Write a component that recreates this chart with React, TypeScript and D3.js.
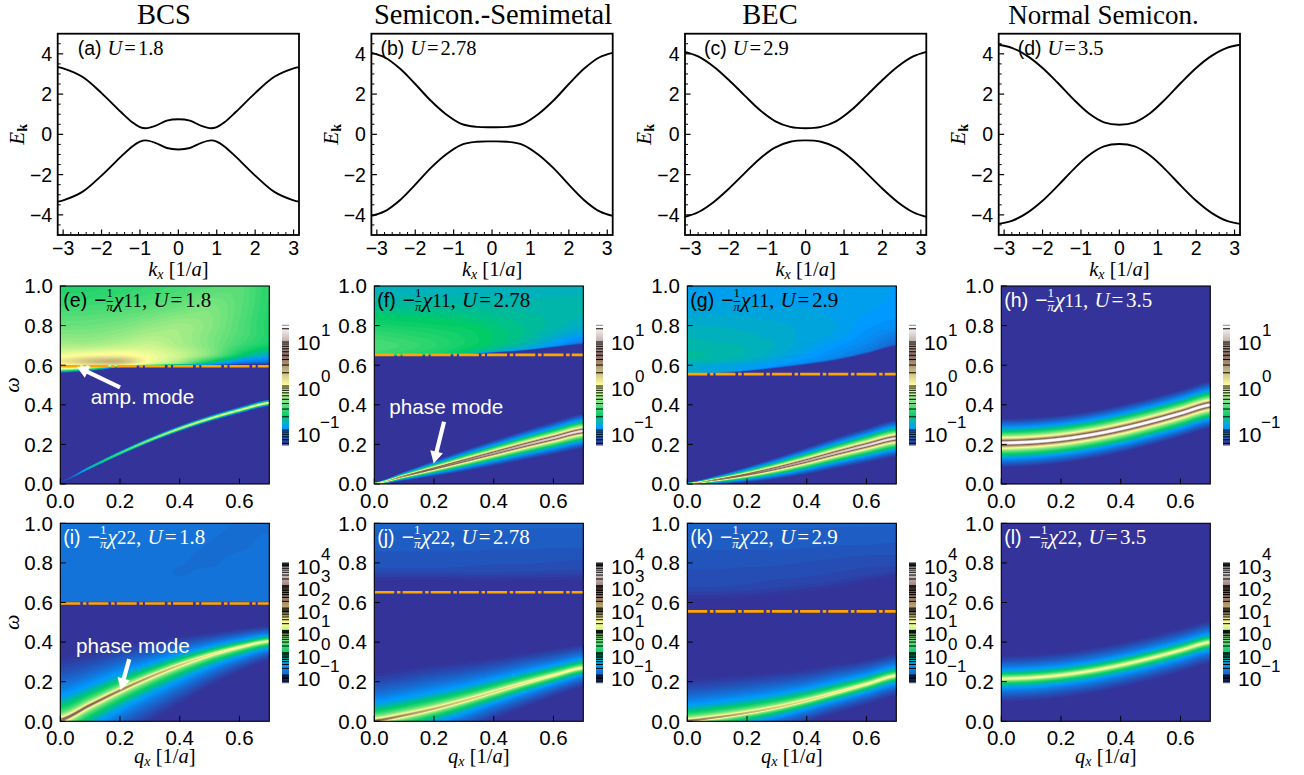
import React, { useMemo } from "react";
import * as d3 from "d3";

// ---------- band structure (half of the symmetric curve)
const K_A = [0, 0.3, 0.6, 0.85, 1.0, 1.2, 1.5, 2, 2.5, 3, Math.PI];
const K_S = [0, 0.4, 0.8, 1.2, 1.6, 2, 2.4, 2.8, Math.PI];
const E_A = [0.75, 0.68, 0.42, 0.3, 0.36, 0.6, 1.12, 2.05, 2.86, 3.28, 3.34];
const E_B = [0.35, 0.37, 0.52, 1.0, 1.68, 2.5, 3.27, 3.83, 4.05];
const E_C = [0.3, 0.37, 0.66, 1.22, 1.95, 2.7, 3.37, 3.87, 4.1];
const E_D = [0.48, 0.6, 1.05, 1.75, 2.55, 3.3, 3.9, 4.3, 4.45];
const TITLES = ["BCS", "Semicon.-Semimetal", "BEC", "Normal Semicon."];
const TITLE_SIZES = [28.5, 28.5, 28.5, 27];
const TOP_LABELS = ["(a)", "(b)", "(c)", "(d)"];
const U_VALUES = ["1.8", "2.78", "2.9", "3.5"];
const TOP_LABEL_DX = [20, 9, 19, 19];

// ---------- spectral maps: q samples, omega samples
const Q_NODES = [0, 0.1, 0.2, 0.3, 0.4, 0.5, 0.6, 0.7];
const W_NODES = [0.6, 0.62, 0.65, 0.7, 0.75, 0.8, 0.9, 1.0];

// mode ridge: omega, log10 peak, distance from ridge to where the colour reaches the floor
const MODE_E = [0.012, 0.084, 0.156, 0.222, 0.28, 0.33, 0.373, 0.41];
const PEAK_E = [-1.2, -0.6, -0.35, -0.15, -0.05, 0.0, 0.02, 0.05];
const REACH_E = [0.004, 0.008, 0.011, 0.013, 0.015, 0.016, 0.017, 0.018];
const MODE_F = [0.002, 0.04, 0.078, 0.117, 0.156, 0.195, 0.232, 0.268];
const PEAK_F = [0.4, 0.7, 0.85, 0.95, 1.05, 1.15, 1.25, 1.35];
const REACH_F = [0.005, 0.023, 0.04, 0.055, 0.066, 0.076, 0.084, 0.09];
const MODE_G = [0.002, 0.022, 0.048, 0.08, 0.117, 0.157, 0.195, 0.231];
const PEAK_G = [0.4, 0.7, 0.85, 1.0, 1.1, 1.2, 1.3, 1.35];
const REACH_G = [0.005, 0.022, 0.04, 0.056, 0.069, 0.08, 0.089, 0.096];
const MODE_H = [0.207, 0.2126, 0.226, 0.2483, 0.2784, 0.3152, 0.3565, 0.4];
const PEAK_H = [1.6, 1.6, 1.6, 1.6, 1.6, 1.6, 1.6, 1.6];
const REACH_H = [0.125, 0.124, 0.123, 0.122, 0.122, 0.121, 0.12, 0.12];

const MODE_I = [0.006, 0.082, 0.156, 0.224, 0.284, 0.334, 0.374, 0.405];
const PEAK_I = [3.2, 2.9, 2.6, 2.2, 1.9, 1.6, 1.45, 1.3];
const UP_I = [0.32, 0.27, 0.23, 0.18, 0.145, 0.115, 0.095, 0.08];
const DOWN_I = [0.3, 0.28, 0.25, 0.23, 0.2, 0.16, 0.125, 0.1];
const MODE_J = [0.003, 0.03, 0.063, 0.103, 0.147, 0.191, 0.232, 0.27];
const PEAK_J = [2.8, 2.4, 2.1, 1.9, 1.75, 1.6, 1.5, 1.4];
const UP_J = [0.24, 0.235, 0.225, 0.2, 0.175, 0.155, 0.135, 0.12];
const DOWN_J = [0.2, 0.2, 0.18, 0.16, 0.14, 0.125, 0.11, 0.1];
const MODE_K = [0.003, 0.02, 0.042, 0.07, 0.105, 0.145, 0.187, 0.231];
const PEAK_K = [2.7, 2.4, 2.1, 1.9, 1.75, 1.6, 1.5, 1.4];
const UP_K = [0.21, 0.205, 0.195, 0.18, 0.16, 0.145, 0.125, 0.115];
const DOWN_K = [0.15, 0.14, 0.13, 0.12, 0.11, 0.105, 0.105, 0.105];
const MODE_L = [0.215, 0.2204, 0.2333, 0.2547, 0.2836, 0.3189, 0.3585, 0.4];
const PEAK_L = [1.35, 1.35, 1.35, 1.35, 1.35, 1.35, 1.35, 1.35];
const REACH_L = [0.118, 0.118, 0.117, 0.116, 0.115, 0.114, 0.112, 0.11];

// continuum edge (omega) and softness of that edge
const EDGE_E = [0.555, 0.565, 0.585, 0.595, 0.6, 0.6, 0.602, 0.605];
const SOFT_E = [0.03, 0.03, 0.02, 0.012, 0.008, 0.006, 0.006, 0.006];
const EDGE_F = [0.645, 0.645, 0.648, 0.652, 0.66, 0.67, 0.685, 0.7];
const SOFT_F = [0.01, 0.01, 0.01, 0.01, 0.012, 0.012, 0.014, 0.016];
const EDGE_G = [0.55, 0.555, 0.565, 0.58, 0.597, 0.618, 0.65, 0.688];
const SOFT_G = [0.012, 0.012, 0.014, 0.016, 0.018, 0.02, 0.02, 0.02];
const EDGE_I = [0.6, 0.6, 0.6, 0.6, 0.6, 0.6, 0.6, 0.6];
const SOFT_I = [0.006, 0.006, 0.006, 0.006, 0.006, 0.006, 0.006, 0.006];
const EDGE_J = [0.68, 0.68, 0.68, 0.675, 0.67, 0.67, 0.67, 0.67];
const SOFT_J = [0.1, 0.1, 0.1, 0.1, 0.1, 0.1, 0.1, 0.1];
const EDGE_K = [0.58, 0.58, 0.585, 0.595, 0.61, 0.63, 0.655, 0.68];
const SOFT_K = [0.1, 0.1, 0.1, 0.1, 0.1, 0.1, 0.1, 0.1];

// continuum log10 intensity: rows follow W_NODES, columns follow Q_NODES
const CONT_E = [
  [0.0, 0.12, 0.15, -0.1, -0.35, -0.9, -1.2, -1.3],
  [0.12, 0.28, 0.32, 0.0, -0.2, -0.6, -0.95, -1.05],
  [-0.02, 0.04, 0.06, -0.02, -0.12, -0.32, -0.65, -0.85],
  [-0.2, -0.2, -0.15, -0.12, -0.2, -0.32, -0.5, -0.62],
  [-0.3, -0.3, -0.26, -0.2, -0.22, -0.32, -0.45, -0.57],
  [-0.38, -0.37, -0.34, -0.28, -0.24, -0.3, -0.44, -0.57],
  [-0.5, -0.49, -0.47, -0.43, -0.38, -0.33, -0.42, -0.56],
  [-0.58, -0.57, -0.55, -0.52, -0.48, -0.44, -0.42, -0.55],
];
const CONT_F = [
  [-0.5, -0.55, -0.6, -0.7, -0.85, -1.0, -1.2, -1.3],
  [-0.5, -0.55, -0.6, -0.7, -0.85, -1.0, -1.2, -1.3],
  [-0.5, -0.55, -0.6, -0.7, -0.85, -1.0, -1.2, -1.3],
  [-0.47, -0.5, -0.55, -0.62, -0.7, -0.8, -0.95, -1.1],
  [-0.52, -0.55, -0.58, -0.62, -0.68, -0.74, -0.83, -0.92],
  [-0.6, -0.62, -0.64, -0.66, -0.7, -0.74, -0.78, -0.83],
  [-0.75, -0.75, -0.75, -0.76, -0.77, -0.78, -0.78, -0.78],
  [-0.82, -0.82, -0.82, -0.82, -0.82, -0.82, -0.82, -0.82],
];
const CONT_G = [
  [-0.85, -0.87, -0.9, -0.95, -1.0, -1.1, -1.2, -1.3],
  [-0.78, -0.8, -0.84, -0.9, -0.97, -1.05, -1.15, -1.3],
  [-0.76, -0.77, -0.8, -0.85, -0.92, -1.0, -1.1, -1.25],
  [-0.78, -0.79, -0.8, -0.83, -0.88, -0.94, -1.02, -1.15],
  [-0.8, -0.81, -0.82, -0.84, -0.87, -0.9, -0.97, -1.05],
  [-0.83, -0.83, -0.84, -0.85, -0.87, -0.89, -0.94, -0.97],
  [-0.88, -0.88, -0.88, -0.89, -0.89, -0.9, -0.91, -0.93],
  [-0.9, -0.9, -0.9, -0.9, -0.9, -0.9, -0.91, -0.92],
];
const CONT_I = [
  [-0.88, -0.88, -0.87, -0.87, -0.87, -0.87, -0.87, -0.87],
  [-0.87, -0.87, -0.87, -0.87, -0.87, -0.87, -0.87, -0.87],
  [-0.86, -0.86, -0.87, -0.87, -0.86, -0.86, -0.86, -0.86],
  [-0.85, -0.85, -0.86, -0.88, -0.87, -0.86, -0.86, -0.86],
  [-0.84, -0.84, -0.85, -0.86, -0.88, -0.86, -0.85, -0.85],
  [-0.84, -0.84, -0.84, -0.85, -0.87, -0.88, -0.85, -0.84],
  [-0.84, -0.84, -0.84, -0.84, -0.85, -0.87, -0.88, -0.85],
  [-0.85, -0.85, -0.84, -0.84, -0.84, -0.85, -0.87, -0.88],
];
const CONT_J = [
  [-1.35, -1.35, -1.35, -1.35, -1.35, -1.35, -1.35, -1.35],
  [-1.35, -1.35, -1.35, -1.35, -1.35, -1.35, -1.35, -1.35],
  [-1.3, -1.3, -1.3, -1.3, -1.3, -1.3, -1.3, -1.3],
  [-1.22, -1.22, -1.22, -1.22, -1.24, -1.25, -1.25, -1.26],
  [-1.15, -1.15, -1.15, -1.16, -1.17, -1.18, -1.19, -1.2],
  [-1.1, -1.1, -1.1, -1.1, -1.11, -1.11, -1.12, -1.13],
  [-1.03, -1.03, -1.03, -1.03, -1.03, -1.03, -1.03, -1.03],
  [-0.98, -0.98, -0.98, -0.98, -0.98, -0.98, -0.98, -0.98],
];
const CONT_K = [
  [-1.3, -1.3, -1.3, -1.3, -1.3, -1.3, -1.33, -1.35],
  [-1.27, -1.27, -1.27, -1.28, -1.3, -1.3, -1.33, -1.35],
  [-1.22, -1.22, -1.23, -1.24, -1.26, -1.28, -1.32, -1.35],
  [-1.17, -1.17, -1.18, -1.2, -1.21, -1.23, -1.27, -1.3],
  [-1.13, -1.13, -1.14, -1.15, -1.16, -1.18, -1.2, -1.22],
  [-1.1, -1.1, -1.1, -1.1, -1.12, -1.13, -1.15, -1.15],
  [-1.03, -1.03, -1.03, -1.03, -1.03, -1.04, -1.04, -1.05],
  [-0.98, -0.98, -0.98, -0.98, -0.98, -0.98, -0.98, -0.98],
];

const CHI11_RANGE = [-1.34, 1.38];
const CHI22_RANGE = [-1.34, 4.03];
const CB1_DECADES = [1, 0, -1];
const CB2_DECADES = [4, 3, 2, 1, 0, -1];
const GAP_LINES = [0.595, 0.652, 0.555, null];
const HEAT_LABELS_TOP = ["(e)", "(f)", "(g)", "(h)"];
const HEAT_LABELS_BOTTOM = ["(i)", "(j)", "(k)", "(l)"];
const X_TICKS_TOP = [-3, -2, -1, 0, 1, 2, 3];
const Y_TICKS_TOP = [-4, -2, 0, 2, 4];
const Q_TICKS = [0, 0.2, 0.4, 0.6];
const W_TICKS = [0, 0.2, 0.4, 0.6, 0.8, 1.0];

// ---------- helpers
const SANS = "'Liberation Sans', Arial, sans-serif";
const SERIF = "'Liberation Serif', 'Times New Roman', serif";
const terrain = d3
  .scaleLinear<string>()
  .domain([0, 0.15, 0.25, 0.5, 0.75, 1])
  .range(["#333399", "#0099ff", "#00cc66", "#ffff99", "#805c54", "#ffffff"])
  .interpolate(d3.interpolateRgb);

function cr(a: number[], u: number) {
  const n = a.length;
  const t = Math.max(0, Math.min(n - 1, u));
  const i = Math.min(n - 2, Math.floor(t));
  const f = t - i;
  const p0 = a[Math.max(0, i - 1)],
    p1 = a[i],
    p2 = a[i + 1],
    p3 = a[Math.min(n - 1, i + 2)];
  return (
    0.5 *
    (2 * p1 +
      (p2 - p0) * f +
      (2 * p0 - 5 * p1 + 4 * p2 - p3) * f * f +
      (3 * p1 - p0 - 3 * p2 + p3) * f * f * f)
  );
}

const qIndex = d3.scaleLinear(Q_NODES, Q_NODES.map((_, i) => i)).clamp(true);
const wIndex = d3.scaleLinear(W_NODES, W_NODES.map((_, i) => i)).clamp(true);

type Heat = {
  mode: number[];
  peak: number[];
  up: number[];
  down: number[];
  edge?: number[];
  soft?: number[];
  cont?: number[][];
  range: number[];
};

const HEATS: Heat[] = [
  { mode: MODE_E, peak: PEAK_E, up: REACH_E, down: REACH_E, edge: EDGE_E, soft: SOFT_E, cont: CONT_E, range: CHI11_RANGE },
  { mode: MODE_F, peak: PEAK_F, up: REACH_F, down: REACH_F, edge: EDGE_F, soft: SOFT_F, cont: CONT_F, range: CHI11_RANGE },
  { mode: MODE_G, peak: PEAK_G, up: REACH_G, down: REACH_G, edge: EDGE_G, soft: SOFT_G, cont: CONT_G, range: CHI11_RANGE },
  { mode: MODE_H, peak: PEAK_H, up: REACH_H, down: REACH_H, range: CHI11_RANGE },
  { mode: MODE_I, peak: PEAK_I, up: UP_I, down: DOWN_I, edge: EDGE_I, soft: SOFT_I, cont: CONT_I, range: CHI22_RANGE },
  { mode: MODE_J, peak: PEAK_J, up: UP_J, down: DOWN_J, edge: EDGE_J, soft: SOFT_J, cont: CONT_J, range: CHI22_RANGE },
  { mode: MODE_K, peak: PEAK_K, up: UP_K, down: DOWN_K, edge: EDGE_K, soft: SOFT_K, cont: CONT_K, range: CHI22_RANGE },
  { mode: MODE_L, peak: PEAK_L, up: REACH_L, down: REACH_L, range: CHI22_RANGE },
];

const NX = 140;
const NY = 396;
const LEVELS = 90;

function heatPaths(h: Heat, left: number, top: number, w: number, ht: number) {
  const [lo, hi] = h.range;
  const vals = new Float64Array(NX * NY);
  const floor = Math.pow(10, lo);
  for (let i = 0; i < NX; i++) {
    const ui = qIndex(((i + 0.5) / NX) * 0.7);
    const w0 = cr(h.mode, ui);
    const P = Math.pow(10, cr(h.peak, ui));
    const rU = cr(h.up, ui);
    const rD = cr(h.down, ui);
    const edge = h.edge ? cr(h.edge, ui) : 0;
    const soft = h.soft ? cr(h.soft, ui) : 1;
    for (let j = 0; j < NY; j++) {
      const om = 1 - (j + 0.5) / NY;
      const d = om - w0;
      const r = d > 0 ? rU : rD;
      const g2 = (floor * r * r) / P;
      let I = (P * g2) / (d * d + g2);
      if (h.cont && om > edge) {
        const v = wIndex(om);
        // cubic along q for the 4 nearest rows, then along omega
        const vi = Math.floor(v);
        const rows = [vi - 1, vi, vi + 1, vi + 2].map((k) =>
          cr(h.cont![Math.max(0, Math.min(h.cont!.length - 1, k))], ui)
        );
        const tbl = cr(rows, 1 + Math.min(1, v - vi));
        const s0 = Math.min(1, (om - edge) / soft);
        const s = s0 * s0 * (3 - 2 * s0);
        const lg = lo - 0.12 + (tbl - lo + 0.12) * s;
        I += Math.pow(10, lg);
      }
      vals[j * NX + i] = Math.log10(I);
    }
  }
  const thresholds = d3.range(0, LEVELS).map((k) => lo + ((hi - lo) * k) / LEVELS);
  const contours = d3.contours().size([NX, NY]).thresholds(thresholds)(vals as any);
  const sx = w / NX;
  const sy = ht / NY;
  return contours.map((c, k) => {
    let s = "";
    for (const poly of c.coordinates) {
      for (const ring of poly) {
        ring.forEach((p: number[], idx: number) => {
          s += (idx ? "L" : "M") + (left + p[0] * sx).toFixed(1) + " " + (top + p[1] * sy).toFixed(1);
        });
        s += "Z";
      }
    }
    return { d: s, fill: terrain((k + 0.5) / LEVELS) };
  });
}

// ---------- layout
const TOP_LEFTS = [57.7, 371.4, 685, 998.7];
const TOP_W = 241.3;
const TOP_Y0 = 33.7;
const TOP_H = 201.3;
const HEAT_LEFTS = [60.3, 374.3, 687.3, 1001.3];
const HEAT_W = 209;
const ROW1_Y = 286;
const ROW2_Y = 523.3;
const HEAT_H = 198;
const TITLE_X = [164, 493, 770, 1103.5];
const CB_LEFTS = [282, 596, 909, 1223];

function Txt(p: any) {
  return <text fontFamily={SANS} fontSize={20.5} fill="#000" {...p} />;
}

function ChiLabel({ x, y, paren, idx, u, fill }: any) {
  return (
    <text x={x} y={y} fill={fill} fontFamily={SERIF} fontSize={21}>
      <tspan fontFamily={SANS} fontSize={19.5}>{paren}</tspan>
      <tspan dx={7} fontFamily={SANS} fontSize={21}>−</tspan>
      <tspan fontSize={13} dy={-10}>1</tspan>
      <tspan fontSize={13} fontStyle="italic" dx={-6.5} dy={14}>π</tspan>
      <tspan fontSize={14} dx={-7} dy={-5} fontWeight={700}>−</tspan>
      <tspan fontStyle="italic" fontSize={22} dy={1}>χ</tspan>
      <tspan fontSize={19}>{idx}</tspan>
      <tspan>, </tspan>
      <tspan fontStyle="italic" dx={1}>U</tspan>
      <tspan dx={2}>=</tspan>
      <tspan dx={2.5}>{u}</tspan>
    </text>
  );
}

function AxisLabelK({ cx, y, v }: any) {
  return (
    <text x={cx} y={y} textAnchor="middle" fontFamily={SERIF} fontSize={20.5} fill="#000">
      <tspan fontStyle="italic">{v}</tspan>
      <tspan fontStyle="italic" fontSize={14} dy={3}>x</tspan>
      <tspan dy={-3}> [1/</tspan>
      <tspan fontStyle="italic">a</tspan>
      <tspan>]</tspan>
    </text>
  );
}

function Arrow({ x1, y1, x2, y2 }: any) {
  const a = Math.atan2(y2 - y1, x2 - x1);
  const ux = Math.cos(a), uy = Math.sin(a);
  const nx = -uy, ny = ux;
  const L = 12, W = 6.5, w = 2.1;
  const bx = x2 - ux * L, by = y2 - uy * L;
  const pts = [
    [x1 + nx * w, y1 + ny * w],
    [bx + nx * w, by + ny * w],
    [bx + nx * W, by + ny * W],
    [x2, y2],
    [bx - nx * W, by - ny * W],
    [bx - nx * w, by - ny * w],
    [x1 - nx * w, y1 - ny * w],
  ];
  return <polygon points={pts.map((p) => p.join(",")).join(" ")} fill="#fff" />;
}

function Colorbar({ x, top, bottom, range, decades, baselineTop, step }: any) {
  const w = 7;
  const y = d3.scaleLinear().domain(range).range([bottom, top]);
  const strips = d3.range(0, 120).map((k) => k / 120);
  const ticks: number[] = [];
  const lo = Math.floor(range[0]);
  const hi = Math.ceil(range[1]);
  for (let e = lo; e <= hi; e++) {
    for (let m = 1; m < 10; m++) {
      const v = e + Math.log10(m);
      if (v >= range[0] && v <= range[1]) ticks.push(v);
    }
  }
  return (
    <g>
      {strips.map((t, i) => (
        <rect
          key={i}
          x={x}
          y={y(range[0] + (t + 1 / 120) * (range[1] - range[0]))}
          width={w}
          height={(bottom - top) / 120 + 0.4}
          fill={terrain(t + 1 / 240)}
        />
      ))}
      {ticks.map((v, i) => (
        <line key={i} x1={x} x2={x + w} y1={y(v)} y2={y(v)} stroke="#000" strokeWidth={1} />
      ))}
      <line x1={x} x2={x + w} y1={top} y2={top} stroke="#555" strokeWidth={0.7} />
      <line x1={x} x2={x + w} y1={bottom} y2={bottom} stroke="#888" strokeWidth={0.7} />
      {decades.map((e: number, i: number) => (
        <g key={e}>
          <Txt x={x + 15} y={baselineTop + i * step} fontSize={21}>10</Txt>
          <Txt x={x + (e < 0 ? 38 : 39)} y={baselineTop + i * step - 14} fontSize={17}>
            {e < 0 ? "−" + -e : e}
          </Txt>
        </g>
      ))}
    </g>
  );
}

function TopPanel({ idx, e, nodes }: { idx: number; e: number[]; nodes: number[] }) {
  const left = TOP_LEFTS[idx];
  const x = d3.scaleLinear().domain([-Math.PI, Math.PI]).range([left, left + TOP_W]);
  const y = d3.scaleLinear().domain([-5, 5]).range([TOP_Y0 + TOP_H, TOP_Y0]);
  const half = nodes.map((k, i) => [k, e[i]] as [number, number]);
  const full = [...half.slice(1).reverse().map(([k, v]) => [-k, v] as [number, number]), ...half];
  const line = d3
    .line<[number, number]>()
    .x((d) => x(d[0]))
    .y((d) => y(d[1]))
    .curve(d3.curveCatmullRom.alpha(0.5));
  const xMinor = d3.range(-3.0, 3.01, 0.2).filter((v) => Math.abs(v - Math.round(v)) > 0.01);
  const yMinor = d3.range(-4.5, 4.6, 1);
  const b = TOP_Y0 + TOP_H;
  return (
    <g>
      <path d={line(full)!} fill="none" stroke="#000" strokeWidth={1.9} />
      <path d={line(full.map(([k, v]) => [k, -v] as [number, number]))!} fill="none" stroke="#000" strokeWidth={1.9} />
      {X_TICKS_TOP.map((t) => (
        <g key={t}>
          <line x1={x(t)} x2={x(t)} y1={b} y2={b - 5.5} stroke="#000" strokeWidth={1.2} />
          <Txt x={x(t)} y={b + 20} fontSize={19.5} textAnchor="middle">{t < 0 ? "−" + -t : t}</Txt>
        </g>
      ))}
      {xMinor.map((t, i) => (
        <line key={i} x1={x(t)} x2={x(t)} y1={b} y2={b - 3} stroke="#000" strokeWidth={1} />
      ))}
      {Y_TICKS_TOP.map((t) => (
        <g key={t}>
          <line x1={left} x2={left + 5.5} y1={y(t)} y2={y(t)} stroke="#000" strokeWidth={1.2} />
          <Txt x={left - 5.5} y={y(t) + 7} fontSize={19.5} textAnchor="end">{t < 0 ? "−" + -t : t}</Txt>
        </g>
      ))}
      {[...yMinor, -3, -1, 1, 3].map((t, i) => (
        <line key={i} x1={left} x2={left + 3} y1={y(t)} y2={y(t)} stroke="#000" strokeWidth={1} />
      ))}
      <rect x={left} y={TOP_Y0} width={TOP_W} height={TOP_H} fill="none" stroke="#000" strokeWidth={1.8} />
      <text x={left + TOP_LABEL_DX[idx]} y={TOP_Y0 + 21.3} fontFamily={SERIF} fontSize={20.5} fill="#000">
        <tspan fontFamily={SANS} fontSize={19.5}>{TOP_LABELS[idx]}</tspan>
        <tspan dx={6} fontStyle="italic">U</tspan>
        <tspan dx={2}>=</tspan>
        <tspan dx={2}>{U_VALUES[idx]}</tspan>
      </text>
      <text
        transform={`translate(${left - 33.7},${y(0)}) rotate(-90)`}
        textAnchor="middle"
        fontFamily={SERIF}
        fontSize={21}
      >
        <tspan fontStyle="italic">E</tspan>
        <tspan fontSize={14} fontWeight={700} dy={3}>k</tspan>
      </text>
      <AxisLabelK cx={left + TOP_W / 2} y={276} v="k" />
      <text x={TITLE_X[idx]} y={24} textAnchor="middle" fontFamily={SERIF} fontSize={TITLE_SIZES[idx]} fill="#000">
        {TITLES[idx]}
      </text>
    </g>
  );
}

function HeatPanel({ col, top, label, idx, white, gap, isBottom, paths }: any) {
  const left = HEAT_LEFTS[col];
  const x = d3.scaleLinear().domain([0, 0.7]).range([left, left + HEAT_W]);
  const y = d3.scaleLinear().domain([0, 1]).range([top + HEAT_H, top]);
  const b = top + HEAT_H;
  return (
    <g>
      <rect x={left} y={top} width={HEAT_W} height={HEAT_H} fill="#333399" />
      {paths.map((p: any, i: number) => (p.d ? <path key={i} d={p.d} fill={p.fill} /> : null))}
      {gap != null && (
        <line
          x1={left}
          x2={left + HEAT_W}
          y1={y(gap)}
          y2={y(gap)}
          stroke="#ffa500"
          strokeWidth={2.6}
          strokeDasharray="20 2.6 3.6 2"
        />
      )}
      {Q_TICKS.map((t) => (
        <g key={t}>
          <line x1={x(t)} x2={x(t)} y1={b} y2={b - 5.5} stroke="#000" strokeWidth={1} />
          <Txt x={x(t)} y={b + 23.5} textAnchor="middle">{t.toFixed(1)}</Txt>
        </g>
      ))}
      {W_TICKS.map((t) => (
        <g key={t}>
          <line x1={left} x2={left + 5.5} y1={y(t)} y2={y(t)} stroke="#000" strokeWidth={1} />
          <Txt x={left - 7.5} y={y(t) + 7.3} textAnchor="end">{t.toFixed(1)}</Txt>
        </g>
      ))}
      <rect x={left} y={top} width={HEAT_W} height={HEAT_H} fill="none" stroke="#000" strokeWidth={1.1} />
      <ChiLabel x={left + 3} y={top + 20.5} paren={label} idx={idx} u={U_VALUES[col]} fill={white ? "#fff" : "#000"} />
      {col === 0 && (
        <text
          transform={`translate(19,${y(0.5)}) rotate(-90)`}
          textAnchor="middle"
          fontFamily={SERIF}
          fontStyle="italic"
          fontSize={22}
        >
          ω
        </text>
      )}
      {isBottom && <AxisLabelK cx={left + HEAT_W / 2} y={763} v="q" />}
    </g>
  );
}

export default function App() {
  const allPaths = useMemo(
    () => HEATS.map((h, i) => heatPaths(h, HEAT_LEFTS[i % 4], i < 4 ? ROW1_Y : ROW2_Y, HEAT_W, HEAT_H)),
    []
  );
  const px1 = (col: number, q: number) => HEAT_LEFTS[col] + (q / 0.7) * HEAT_W;
  const py = (top: number, w: number) => top + (1 - w) * HEAT_H;
  return (
    <svg
      width={1304}
      height={775}
      viewBox="0 0 1304 775"
      style={{ position: "absolute", left: 0, top: 0, background: "#fff" }}
    >
      <TopPanel idx={0} e={E_A} nodes={K_A} />
      <TopPanel idx={1} e={E_B} nodes={K_S} />
      <TopPanel idx={2} e={E_C} nodes={K_S} />
      <TopPanel idx={3} e={E_D} nodes={K_S} />
      {[0, 1, 2, 3].map((c) => (
        <HeatPanel
          key={"r1" + c}
          col={c}
          top={ROW1_Y}
          label={HEAT_LABELS_TOP[c]}
          idx="11"
          white={c === 3}
          gap={GAP_LINES[c]}
          paths={allPaths[c]}
        />
      ))}
      {[0, 1, 2, 3].map((c) => (
        <HeatPanel
          key={"r2" + c}
          col={c}
          top={ROW2_Y}
          label={HEAT_LABELS_BOTTOM[c]}
          idx="22"
          white
          gap={GAP_LINES[c]}
          isBottom
          paths={allPaths[c + 4]}
        />
      ))}
      {CB_LEFTS.map((x) => (
        <g key={x}>
          <Colorbar x={x} top={325.3} bottom={445} range={CHI11_RANGE} decades={CB1_DECADES} baselineTop={350} step={46.1} />
          <Colorbar x={x} top={562.7} bottom={682.7} range={CHI22_RANGE} decades={CB2_DECADES} baselineTop={574} step={22.4} />
        </g>
      ))}
      <Arrow x1={px1(0, 0.2)} y1={py(ROW1_Y, 0.488)} x2={px1(0, 0.055)} y2={py(ROW1_Y, 0.592)} />
      <Txt x={90.7} y={404.3} fontSize={20.7} fill="#fff">amp. mode</Txt>
      <Arrow x1={px1(1, 0.2335)} y1={py(ROW1_Y, 0.314)} x2={px1(1, 0.199)} y2={py(ROW1_Y, 0.104)} />
      <Txt x={389.3} y={414.3} fontSize={20.7} fill="#fff">phase mode</Txt>
      <Arrow x1={px1(0, 0.231)} y1={py(ROW2_Y, 0.314)} x2={px1(0, 0.202)} y2={py(ROW2_Y, 0.157)} />
      <Txt x={76} y={652.7} fontSize={20.7} fill="#fff">phase mode</Txt>
    </svg>
  );
}
